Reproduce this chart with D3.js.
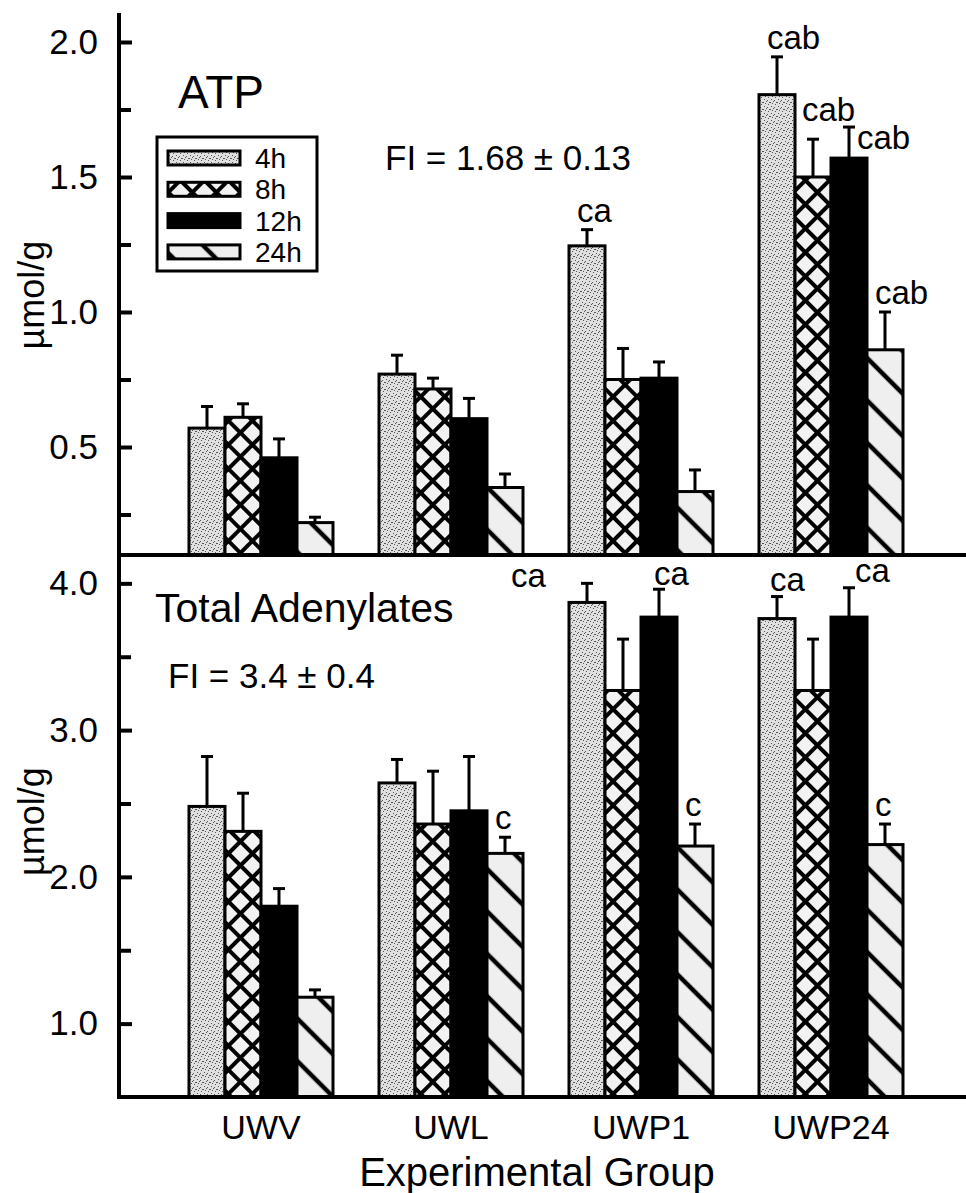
<!DOCTYPE html>
<html>
<head>
<meta charset="utf-8">
<script src="https://cdn.jsdelivr.net/npm/d3@7"></script>
<style>
  body { margin: 0; background: #fff; }
  text { font-family: "Liberation Sans", Arial, Helvetica, sans-serif; fill: #000; }
</style>
</head>
<body>
<script>
// groups and storage times
const groups = ["UWV", "UWL", "UWP1", "UWP24"];
const times = ["4h", "8h", "12h", "24h"];

// ATP, µmol/g : mean per group (4h, 8h, 12h, 24h) and upper error
const atpMean = [[0.57, 0.61, 0.46, 0.22], [0.77, 0.715, 0.605, 0.35], [1.245, 0.75, 0.755, 0.335], [1.805, 1.50, 1.57, 0.86]];
const atpErr = [[0.08, 0.05, 0.07, 0.02], [0.07, 0.04, 0.075, 0.05], [0.06, 0.115, 0.06, 0.08], [0.14, 0.14, 0.115, 0.14]];
const atpSig = [["", "", "", ""], ["", "", "", ""], ["ca", "", "", ""], ["cab", "cab", "cab", "cab"]];

// Total adenylates, µmol/g
const totMean = [[2.48, 2.31, 1.80, 1.18], [2.64, 2.36, 2.45, 2.16], [3.87, 3.27, 3.77, 2.21], [3.76, 3.27, 3.77, 2.22]];
const totErr = [[0.34, 0.26, 0.12, 0.05], [0.16, 0.36, 0.37, 0.11], [0.13, 0.35, 0.19, 0.15], [0.15, 0.35, 0.20, 0.14]];
const totSig = [["", "", "", ""], ["", "", "", "c"], ["ca", "", "ca", "c"], ["ca", "", "ca", "c"]];

const atpTicks = [0.5, 1.0, 1.5, 2.0];
const atpMinor = [0.25, 0.75, 1.25, 1.75];
const totTicks = [1.0, 2.0, 3.0, 4.0];
const totMinor = [1.5, 2.5, 3.5];

const width = 966, height = 1193;
const axisX = 119;

const svg = d3.select("body").append("svg")
    .attr("width", width)
    .attr("height", height);

// fill patterns
const defs = svg.append("defs");
const dots = [[1, 1], [4, 2], [2, 5], [6, 4], [5, 6], [3, 3], [0, 4]];

const stip = defs.append("pattern").attr("id", "p4h")
    .attr("patternUnits", "userSpaceOnUse").attr("width", 7).attr("height", 7);
stip.append("rect").attr("width", 7).attr("height", 7).attr("fill", "#e0e0e0");
dots.forEach(d => stip.append("rect").attr("x", d[0]).attr("y", d[1]).attr("width", 1).attr("height", 1).attr("fill", "#555"));

const cs = 17;
const cross = defs.append("pattern").attr("id", "p8h")
    .attr("patternUnits", "userSpaceOnUse").attr("width", cs).attr("height", cs)
    .attr("patternTransform", "rotate(45)");
cross.append("rect").attr("width", cs).attr("height", cs).attr("fill", "#f2f2f2");
[0, cs].forEach(p => {
    cross.append("line").attr("x1", 0).attr("y1", p).attr("x2", cs).attr("y2", p).attr("stroke", "#000").attr("stroke-width", 4);
    cross.append("line").attr("x1", p).attr("y1", 0).attr("x2", p).attr("y2", cs).attr("stroke", "#000").attr("stroke-width", 4);
});

const ds = 30;
const diag = defs.append("pattern").attr("id", "p24h")
    .attr("patternUnits", "userSpaceOnUse").attr("width", ds).attr("height", ds)
    .attr("patternTransform", "rotate(45)");
diag.append("rect").attr("width", ds).attr("height", ds).attr("fill", "#efefef");
[0, ds].forEach(p => diag.append("line").attr("x1", 0).attr("y1", p).attr("x2", ds).attr("y2", p)
    .attr("stroke", "#000").attr("stroke-width", 4.5));

const fills = { "4h": "url(#p4h)", "8h": "url(#p8h)", "12h": "#000", "24h": "url(#p24h)" };

// scales
const x = d3.scaleBand().domain(groups).range([166, 926]);
const xi = d3.scaleBand().domain(times).range([-72, 72]);
const yTop = d3.scaleLinear().domain([0.1, 2.1]).range([555, 15]);
const yBot = d3.scaleLinear().domain([0.5, 4.2]).range([1097, 554]);

// label placements that differ from "just above the error bar"
const placeAtp = { "3-1": [-11, -18], "3-2": [8, 22] };
const placeTot = { "2-0": [-76, 4], "2-2": [-5, -4], "3-0": [-7, -6], "3-2": [6, -6] };

function panel(y, mean, err, sig, ticks, minor, place, titleShift) {
    const g = svg.append("g");
    const base = y.range()[0];

    const rows = [];
    groups.forEach((grp, gi) => times.forEach((t, ti) => rows.push({
        gi: gi, ti: ti, grp: grp, t: t, v: mean[gi][ti], e: err[gi][ti], s: sig[gi][ti]
    })));

    // error bars
    rows.forEach(d => {
        const cx = x(d.grp) + x.bandwidth() / 2 + xi(d.t) + xi.bandwidth() / 2;
        g.append("line").attr("x1", cx).attr("x2", cx)
            .attr("y1", y(d.v)).attr("y2", y(d.v + d.e))
            .attr("stroke", "#000").attr("stroke-width", 3);
        g.append("line").attr("x1", cx - 6).attr("x2", cx + 6)
            .attr("y1", y(d.v + d.e)).attr("y2", y(d.v + d.e))
            .attr("stroke", "#000").attr("stroke-width", 3);
        if (d.s) {
            const off = place[d.gi + "-" + d.ti] || [-10, -8];
            g.append("text").attr("x", cx + off[0]).attr("y", y(d.v + d.e) + off[1])
                .attr("font-size", 33).text(d.s);
        }
    });

    // bars
    g.selectAll("rect.bar").data(rows).join("rect")
        .attr("class", "bar")
        .attr("x", d => x(d.grp) + x.bandwidth() / 2 + xi(d.t))
        .attr("width", xi.bandwidth())
        .attr("y", d => y(d.v))
        .attr("height", d => base - y(d.v))
        .attr("fill", d => fills[d.t])
        .attr("stroke", "#000")
        .attr("stroke-width", 3);

    // y axis, ticks pointing inwards
    const ax = g.append("g").attr("transform", "translate(" + axisX + ",0)")
        .call(d3.axisLeft(y).tickValues(ticks).tickFormat(d3.format(".1f"))
            .tickSizeInner(-13).tickSizeOuter(0).tickPadding(21));
    ax.select(".domain").remove();
    ax.selectAll(".tick line").attr("stroke-width", 4);
    ax.selectAll(".tick text").attr("font-size", 35).attr("font-family", "Liberation Sans, Arial, sans-serif");

    const axm = g.append("g").attr("transform", "translate(" + axisX + ",0)")
        .call(d3.axisLeft(y).tickValues(minor).tickFormat("").tickSizeInner(-12).tickSizeOuter(0));
    axm.select(".domain").remove();
    axm.selectAll(".tick line").attr("stroke-width", 4);

    // baseline
    g.append("line").attr("x1", axisX - 2).attr("x2", width)
        .attr("y1", base).attr("y2", base)
        .attr("stroke", "#000").attr("stroke-width", 4);

    // y title
    const mid = (y.range()[0] + y.range()[1]) / 2 + titleShift;
    g.append("text").attr("transform", "translate(44," + mid + ") rotate(-90)")
        .attr("text-anchor", "middle").attr("font-size", 36).text("µmol/g");
}

panel(yTop, atpMean, atpErr, atpSig, atpTicks, atpMinor, placeAtp, 10);
panel(yBot, totMean, totErr, totSig, totTicks, totMinor, placeTot, -4);

// main y axis line
svg.append("line").attr("x1", axisX).attr("x2", axisX)
    .attr("y1", 13).attr("y2", 1099)
    .attr("stroke", "#000").attr("stroke-width", 4);

// titles
svg.append("text").attr("x", 178).attr("y", 108).attr("font-size", 46).text("ATP");
svg.append("text").attr("x", 385).attr("y", 170).attr("font-size", 35).text("FI = 1.68 ± 0.13");
svg.append("text").attr("x", 155).attr("y", 622).attr("font-size", 41).text("Total Adenylates");
svg.append("text").attr("x", 168).attr("y", 688).attr("font-size", 35).text("FI = 3.4 ± 0.4");

// legend
const leg = svg.append("g");
leg.append("rect").attr("x", 157).attr("y", 137).attr("width", 160).attr("height", 134)
    .attr("fill", "#fff").attr("stroke", "#000").attr("stroke-width", 3);
times.forEach((t, i) => {
    const cy = 158 + i * 31.3;
    leg.append("rect").attr("x", 168).attr("y", cy - 7).attr("width", 72).attr("height", 14)
        .attr("fill", fills[t]).attr("stroke", "#000").attr("stroke-width", 3);
    leg.append("text").attr("x", 255).attr("y", cy + 10).attr("font-size", 28).text(t);
});

// x axis labels
svg.append("g").selectAll("text").data(groups).join("text")
    .attr("x", d => x(d) + x.bandwidth() / 2)
    .attr("y", 1139)
    .attr("text-anchor", "middle")
    .attr("font-size", 34)
    .text(d => d);

svg.append("text").attr("x", 537).attr("y", 1186).attr("text-anchor", "middle")
    .attr("font-size", 40).text("Experimental Group");
</script>
</body>
</html>
